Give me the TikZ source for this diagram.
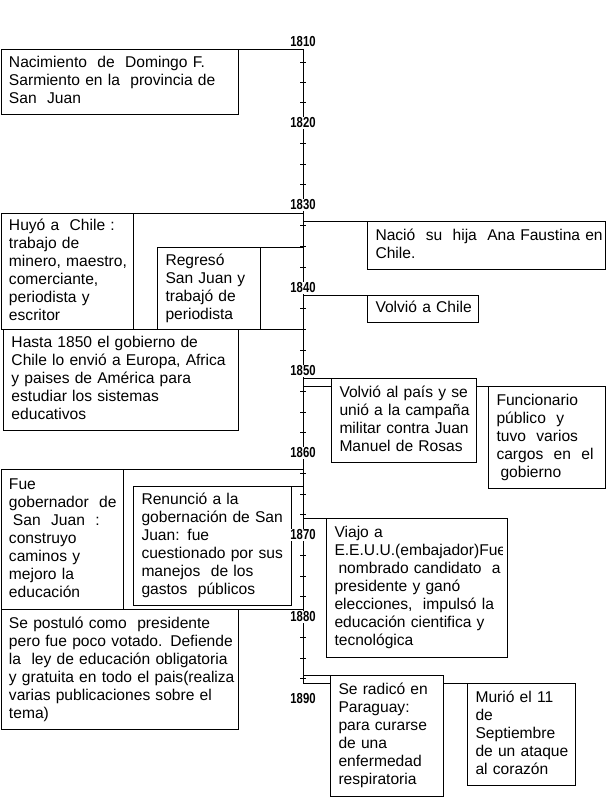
\documentclass[tikz,border=0pt]{standalone}
\usepackage{fontspec}
\usepackage{graphicx}
\setmainfont{Liberation Sans}
\newcommand\boxlines[1]{\begin{tabular}{@{}l@{}}#1\end{tabular}}
\newcommand\yearfont{\fontsize{14.5}{15}\selectfont\bfseries}
\newcommand\yrtxt[1]{\scalebox{0.78}[1]{#1}}
\begin{document}
\begin{tikzpicture}[x=1pt,y=-1pt,
  box/.style={draw, fill=white, line width=1pt, inner xsep=8pt, inner ysep=0pt,
    anchor=north west, font=\fontsize{15.6}{18}\selectfont},
  conn/.style={line width=1pt},
  tick/.style={line width=0.8pt},
  yearlbl/.style={fill=white, inner sep=0.8pt, font=\yearfont}]
\useasboundingbox (0,0) rectangle (606,798);

% axis
\coordinate (axtop) at (303,49);
\coordinate (axbot) at (303,683);
\draw[conn] (axtop) -- (axbot);
\foreach \t in {62.25,82.5,102.75,143.5,164,184.5,225.75,246.5,267.25,308.75,329.5,350.25,391.5,412,432.5,473.5,494,514.5,555.5,576,596.5,637.5,658,678.5}
  \draw[tick] (300,\t) -- (306,\t);

% connector end points on the boxes (box corners)
\coordinate (c-nac) at (238,49);
\coordinate (c-huyo) at (133,213);
\coordinate (c-regreso) at (260,247);
\coordinate (c-hasta) at (238,329);
\coordinate (c-nacio) at (367,221);
\coordinate (c-volchile) at (367,295);
\coordinate (c-volpais) at (331,378);
\coordinate (c-func) at (488,386);
\coordinate (c-fuegob) at (123,469);
\coordinate (c-renuncio) at (291,486);
\coordinate (c-viajo) at (326,518);
\coordinate (c-postulo) at (238,609);
\coordinate (c-radico) at (330,675);
\coordinate (c-murio) at (467,683);

\foreach \n in {nac,huyo,regreso,hasta,fuegob,renuncio,postulo}
  \draw[conn] (c-\n) -- (c-\n -| axtop);
\foreach \n in {nacio,volchile,volpais,func,viajo,radico,murio}
  \draw[conn] (c-\n -| axtop) -- (c-\n);

% left side
\node[box, text width=221.5pt, minimum width=237.5pt, minimum height=65pt] (nac) at (0.5,49)
  {\boxlines{Nacimiento~~de~~Domingo F.\\Sarmiento en la~~provincia de\\San~~Juan}};
\node[box, text width=219pt, minimum width=235pt, minimum height=101pt] (hasta) at (3,329)
  {\boxlines{Hasta 1850 el gobierno de\\Chile lo envió a Europa, Africa\\y paises de América para\\estudiar los sistemas\\educativos}};
\node[box, text width=116.5pt, minimum width=132.5pt, minimum height=116pt] (huyo) at (0.5,213)
  {\boxlines{Huyó a~~Chile :\\trabajo de\\minero, maestro,\\comerciante,\\periodista y\\escritor}};
\node[box, text width=87pt, minimum width=103pt, minimum height=82pt] (regreso) at (157,247)
  {\boxlines{Regresó\\San Juan y\\trabajó de\\periodista}};
\node[box, text width=106.5pt, minimum width=122.5pt, minimum height=140pt] (fuegob) at (0.5,469)
  {\boxlines{Fue\\gobernador~~de\\\hspace*{4pt}San~~Juan~~:\\construyo\\caminos y\\mejoro la\\educación}};
\node[box, text width=142pt, minimum width=158pt, minimum height=119pt] (renuncio) at (133,486)
  {\boxlines{Renunció a la\\gobernación de San\\Juan: fue\\cuestionado por sus\\manejos~~de los\\gastos~~públicos}};
\node[box, text width=221.5pt, minimum width=237.5pt, minimum height=120pt] (postulo) at (0.5,609)
  {\boxlines{Se postuló como~~presidente\\pero fue poco votado. Defiende\\la~~ley de educación obligatoria\\y gratuita en todo el pais(realiza\\varias publicaciones sobre el\\tema)}};

% right side
\node[box, text width=222pt, minimum width=238pt, minimum height=48pt] (nacio) at (367,221)
  {\boxlines{Nació~~su~~hija~~Ana Faustina en\\Chile.}};
\node[box, text width=95pt, minimum width=111pt, minimum height=27pt] (volchile) at (367,295)
  {\boxlines{Volvió a Chile}};
\node[box, text width=101pt, minimum width=117pt, minimum height=102pt] (func) at (488,386)
  {\boxlines{Funcionario\\público~~y\\tuvo~~varios\\cargos~~en~~el\\\hspace*{4pt}gobierno}};
\node[box, text width=129pt, minimum width=145pt, minimum height=84pt] (volpais) at (331,378)
  {\boxlines{Volvió al país y se\\unió a la campaña\\militar contra Juan\\Manuel de Rosas}};
\begin{scope}
\clip (325.5,517.5) rectangle (502,656.5);
\node[box, draw=none, text width=164pt, minimum width=180pt, minimum height=138pt] (viajo) at (326,518)
  {\boxlines{Viajo a\\E.E.U.U.(embajador)Fue\\\hspace*{4pt}nombrado candidato~~a\\presidente y ganó\\elecciones,~~impulsó la\\educación cientifica y\\tecnológica}};
\end{scope}
\draw[conn] (viajo.north west) rectangle (viajo.south east);
\node[box, text width=97pt, minimum width=113pt, minimum height=121pt] (radico) at (330,675)
  {\boxlines{Se radicó en\\Paraguay:\\para curarse\\de una\\enfermedad\\respiratoria}};
\node[box, text width=92pt, minimum width=108pt, minimum height=102pt] (murio) at (467,683)
  {\boxlines{Murió el 11\\de\\Septiembre\\de un ataque\\al corazón}};

% year labels
\node[yearlbl] (y1810) at (303,42) {\yrtxt{1810}};
\node[yearlbl] (y1820) at (303,123) {\yrtxt{1820}};
\node[yearlbl] (y1830) at (303,205) {\yrtxt{1830}};
\node[yearlbl] (y1840) at (303,288) {\yrtxt{1840}};
\node[yearlbl] (y1850) at (303,371) {\yrtxt{1850}};
\node[yearlbl] (y1860) at (303,453) {\yrtxt{1860}};
\node[yearlbl] (y1870) at (303,535) {\yrtxt{1870}};
\node[yearlbl] (y1880) at (303,617) {\yrtxt{1880}};
\node[yearlbl] (y1890) at (303,699) {\yrtxt{1890}};
\end{tikzpicture}
\end{document}
